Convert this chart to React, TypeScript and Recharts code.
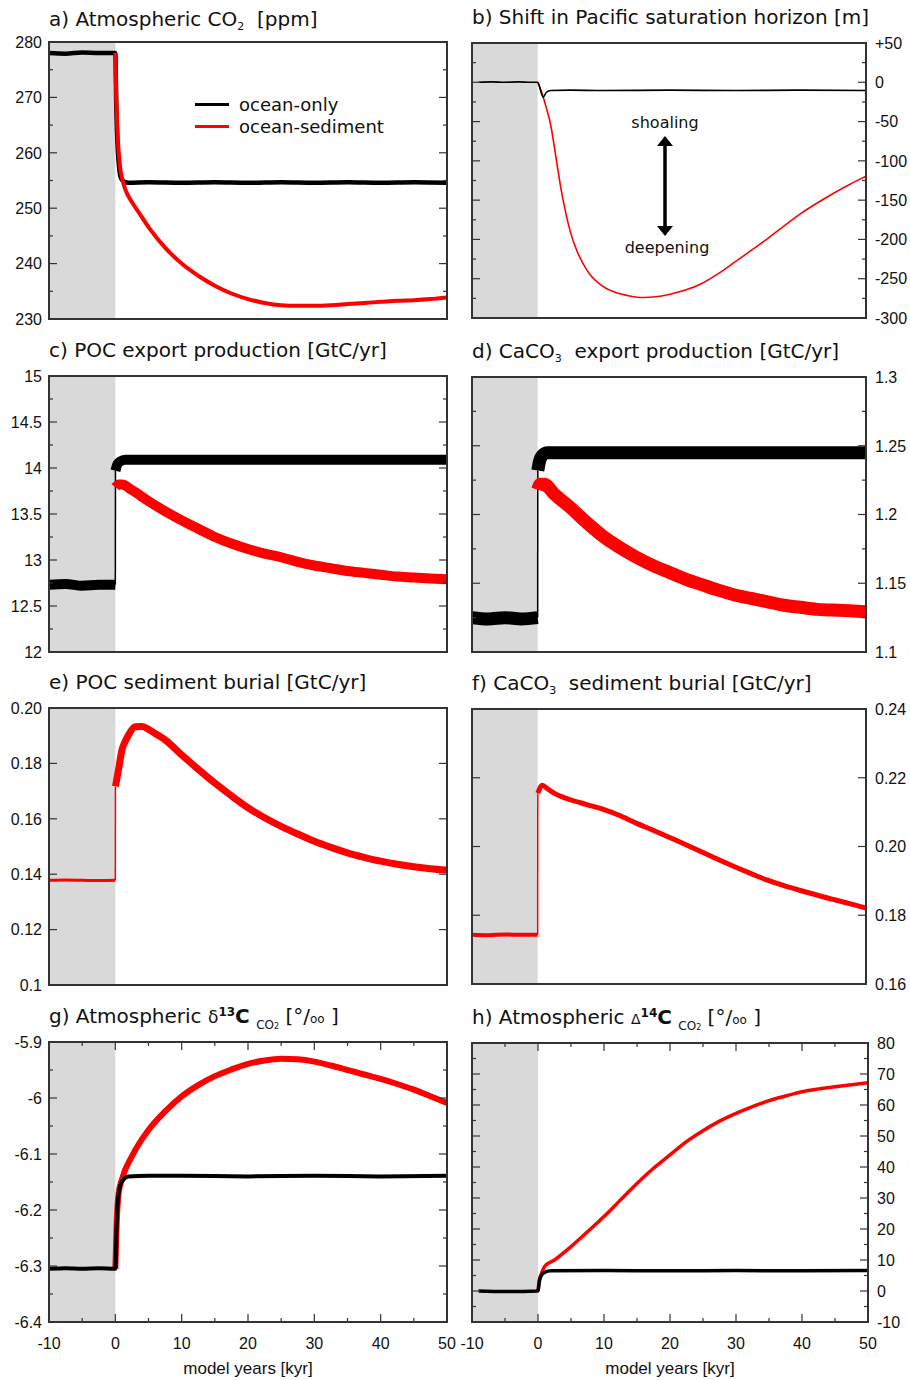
import React from 'react';
import { LineChart, Line, XAxis, YAxis, ReferenceArea, Legend, Label } from 'recharts';

type Pt = [number, number];

// shared x axis, model years [kyr]
const xTicks = [-10, 0, 10, 20, 30, 40, 50];
const xMinor = [-5, 5, 15, 25, 35, 45];
const xLabels = ['-10', '0', '10', '20', '30', '40', '50'];

// a) atmospheric CO2 [ppm]
const co2Ticks = [230, 240, 250, 260, 270, 280];
const co2Minor = [235, 245, 255, 265, 275];
const co2Labels = ['230', '240', '250', '260', '270', '280'];
const co2OceanOnly: Pt[] = [[-10, 278], [-7.5, 277.9], [-5, 278.1], [-2.5, 278], [0, 278], [0.15, 268], [0.35, 261], [0.6, 257], [0.9, 255.3], [1.3, 254.8], [2, 254.6], [5, 254.7], [10, 254.6], [15, 254.7], [20, 254.6], [25, 254.7], [30, 254.6], [35, 254.7], [40, 254.6], [45, 254.7], [50, 254.6]];
const co2OceanSed: Pt[] = [[0, 278], [0.15, 269.5], [0.4, 262], [0.7, 257.6], [1.1, 255], [1.5, 253.4], [2.5, 251.1], [3.5, 249.3], [5, 246.6], [7.5, 242.9], [10, 240], [12.5, 237.8], [15, 236], [17.5, 234.6], [20, 233.6], [22.5, 232.9], [25, 232.5], [27.5, 232.4], [30, 232.4], [32.5, 232.5], [35, 232.7], [37.5, 232.9], [40, 233.1], [42.5, 233.3], [45, 233.4], [47.5, 233.6], [50, 233.9]];

// b) shift in Pacific saturation horizon [m]
const horTicks = [-300, -250, -200, -150, -100, -50, 0, 50];
const horMinor = [-275, -225, -175, -125, -75, -25, 25];
const horLabels = ['-300', '-250', '-200', '-150', '-100', '-50', '0', '+50'];
const horOceanOnly: Pt[] = [[-9, 0], [-7, 0.5], [-5, 0], [-3, 0.5], [-1, 0], [0, 0], [0.3, -6], [0.6, -15], [0.85, -19], [1.3, -13], [2, -10.5], [5, -10], [10, -10.5], [20, -10], [30, -10.5], [40, -10], [50, -10.5]];
const horOceanSed: Pt[] = [[0, 0], [0.5, -10], [0.85, -19], [1.5, -38], [2, -55], [2.5, -80], [3, -107], [3.5, -133], [4, -155], [5, -191], [6, -215], [7, -232], [8, -245], [10, -260], [12, -268], [14, -272], [16, -274], [18, -273], [20, -270], [22.5, -264.5], [25, -256], [27.5, -243.5], [30, -229], [32.5, -214], [35, -199], [37.5, -183], [40, -167.5], [42.5, -154], [45, -141.5], [47.5, -130], [50, -119.5]];

// c) POC export production [GtC/yr]
const pocTicks = [12, 12.5, 13, 13.5, 14, 14.5, 15];
const pocMinor = [12.25, 12.75, 13.25, 13.75, 14.25, 14.75];
const pocLabels = ['12', '12.5', '13', '13.5', '14', '14.5', '15'];
const pocOnlyPre: Pt[] = [[-10, 12.73], [-7.5, 12.74], [-5, 12.72], [-2.5, 12.73], [0, 12.73]];
const pocOnlyPost: Pt[] = [[0.02, 13.97], [0.3, 14.04], [0.7, 14.07], [1.5, 14.09], [5, 14.09], [10, 14.09], [20, 14.09], [30, 14.09], [40, 14.09], [50, 14.09]];
const pocSed: Pt[] = [[0.02, 13.79], [0.5, 13.82], [1, 13.82], [2.5, 13.76], [5, 13.64], [7.5, 13.53], [10, 13.43], [12.5, 13.34], [15, 13.25], [17.5, 13.18], [20, 13.12], [22.5, 13.07], [25, 13.03], [27.5, 12.98], [30, 12.94], [32.5, 12.91], [35, 12.88], [37.5, 12.86], [40, 12.84], [42.5, 12.82], [45, 12.81], [47.5, 12.8], [50, 12.79]];

// d) CaCO3 export production [GtC/yr]
const calTicks = [1.1, 1.15, 1.2, 1.25, 1.3];
const calMinor = [1.125, 1.175, 1.225, 1.275];
const calLabels = ['1.1', '1.15', '1.2', '1.25', '1.3'];
const calOnlyPre: Pt[] = [[-10, 1.125], [-7.5, 1.124], [-5, 1.125], [-2.5, 1.124], [0, 1.125]];
const calOnlyPost: Pt[] = [[0.02, 1.232], [0.3, 1.239], [0.7, 1.243], [1.5, 1.245], [5, 1.245], [10, 1.245], [20, 1.245], [30, 1.245], [40, 1.245], [50, 1.245]];
const calSed: Pt[] = [[0.02, 1.218], [0.4, 1.222], [1, 1.222], [2.5, 1.215], [5, 1.205], [7.5, 1.194], [10, 1.184], [12.5, 1.176], [15, 1.169], [17.5, 1.163], [20, 1.158], [22.5, 1.153], [25, 1.149], [27.5, 1.145], [30, 1.1415], [32.5, 1.139], [35, 1.1365], [37.5, 1.134], [40, 1.1325], [42.5, 1.131], [45, 1.1305], [47.5, 1.13], [50, 1.1293]];

// e) POC sediment burial [GtC/yr]
const pbTicks = [0.1, 0.12, 0.14, 0.16, 0.18, 0.2];
const pbLabels = ['0.1', '0.12', '0.14', '0.16', '0.18', '0.20'];
const pbPre: Pt[] = [[-10, 0.1378], [-7.5, 0.1379], [-5, 0.1378], [-2.5, 0.1377], [0, 0.1378]];
const pbPost: Pt[] = [[0.02, 0.1717], [0.5, 0.178], [1, 0.1849], [1.5, 0.188], [2, 0.1903], [3, 0.1932], [4, 0.1933], [5, 0.1923], [6, 0.1908], [7.5, 0.1885], [10, 0.1831], [12.5, 0.1779], [15, 0.1729], [17.5, 0.1683], [20, 0.164], [22.5, 0.1604], [25, 0.1573], [27.5, 0.1545], [30, 0.1519], [32.5, 0.1497], [35, 0.1477], [37.5, 0.1461], [40, 0.1447], [42.5, 0.1436], [45, 0.1427], [47.5, 0.142], [50, 0.1415]];

// f) CaCO3 sediment burial [GtC/yr]
const cbTicks = [0.16, 0.18, 0.2, 0.22, 0.24];
const cbLabels = ['0.16', '0.18', '0.20', '0.22', '0.24'];
const cbPre: Pt[] = [[-10, 0.1743], [-7.5, 0.1742], [-5, 0.1744], [-2.5, 0.1743], [0, 0.1743]];
const cbPost: Pt[] = [[0.02, 0.2155], [0.7, 0.2178], [1.5, 0.2168], [2.5, 0.2155], [5, 0.2136], [7.5, 0.2122], [10, 0.2108], [12.5, 0.209], [15, 0.2068], [17.5, 0.2048], [20, 0.2027], [22.5, 0.2006], [25, 0.1984], [27.5, 0.1962], [30, 0.1941], [32.5, 0.1921], [35, 0.1902], [37.5, 0.1886], [40, 0.1872], [42.5, 0.1859], [45, 0.1846], [47.5, 0.1834], [50, 0.1821]];

// g) atmospheric d13C [permil]
const d13Ticks = [-6.4, -6.3, -6.2, -6.1, -6, -5.9];
const d13Minor = [-6.35, -6.25, -6.15, -6.05, -5.95];
const d13Labels = ['-6.4', '-6.3', '-6.2', '-6.1', '-6', '-5.9'];
const d13OceanOnly: Pt[] = [[-10, -6.305], [-7.5, -6.304], [-5, -6.305], [-2.5, -6.304], [0, -6.305], [0.2, -6.225], [0.5, -6.17], [1, -6.149], [2, -6.14], [5, -6.139], [10, -6.139], [20, -6.14], [30, -6.139], [40, -6.14], [50, -6.139]];
const d13OceanSed: Pt[] = [[0, -6.305], [0.2, -6.225], [0.5, -6.17], [1, -6.145], [2.5, -6.104], [5, -6.057], [7.5, -6.024], [10, -5.997], [12.5, -5.977], [15, -5.961], [17.5, -5.949], [20, -5.939], [22.5, -5.933], [25, -5.93], [27.5, -5.931], [30, -5.935], [32.5, -5.942], [35, -5.95], [37.5, -5.958], [40, -5.966], [42.5, -5.975], [45, -5.985], [47.5, -5.997], [50, -6.009]];

// h) atmospheric D14C [permil]
const d14Ticks = [-10, 0, 10, 20, 30, 40, 50, 60, 70, 80];
const d14Minor = [-5, 5, 15, 25, 35, 45, 55, 65, 75];
const d14Labels = ['-10', '0', '10', '20', '30', '40', '50', '60', '70', '80'];
const d14OceanOnly: Pt[] = [[-9, 0], [-5, -0.2], [0, 0], [0.2, 3], [0.5, 5], [1, 6], [2, 6.5], [10, 6.6], [20, 6.5], [30, 6.6], [40, 6.5], [50, 6.6]];
const d14OceanSed: Pt[] = [[0, 0], [0.2, 3.5], [0.5, 5.5], [1, 7.9], [2.5, 10], [5, 14.3], [7.5, 19.1], [10, 24], [12.5, 29.4], [15, 34.7], [17.5, 39.6], [20, 43.9], [22.5, 48.2], [25, 51.7], [27.5, 54.8], [30, 57.3], [32.5, 59.5], [35, 61.4], [37.5, 62.9], [40, 64.3], [42.5, 65.2], [45, 65.9], [47.5, 66.5], [50, 67.2]];

const BLACK = '#000000';
const RED = '#ff0000';
const AX = '#333333';
const TICK_FONT = '"Liberation Sans", Arial, sans-serif';
const TITLE_FONT = '"DejaVu Sans", Verdana, sans-serif';

interface Series {
  data: Pt[];
  color: string;
  width: number;
  name?: string;
}

interface PanelCfg {
  id: string;
  left: number;
  top: number;
  w: number;
  h: number;
  side: 'left' | 'right';
  yTicks: number[];
  yMinor: number[];
  yLabels: string[];
  series: Series[];
  title: React.ReactNode;
  bottom?: boolean;
  legend?: boolean;
}

const toRows = (d: Pt[]) => d.map(([x, y]) => ({ x, y }));
const link = (a: Pt[], b: Pt[]): Pt[] => [a[a.length - 1], b[0]];

const sub = (t: string) => <sub style={{ fontSize: 11, verticalAlign: -4, lineHeight: 0 }}>{t}</sub>;

function makeYTick(p: PanelCfg) {
  return (props: any) => {
    const { x, y, payload } = props;
    const i = p.yTicks.findIndex((t) => Math.abs(t - payload.value) < 1e-9);
    const dir = p.side === 'left' ? 1 : -1;
    const len = i >= 0 ? 8 : 4;
    const far = x + dir * p.w;
    return (
      <g>
        <line x1={x} y1={y} x2={x + dir * len} y2={y} stroke={AX} strokeWidth={1.2} />
        <line x1={far} y1={y} x2={far - dir * len} y2={y} stroke={AX} strokeWidth={1.2} />
        {i >= 0 && (
          <text
            x={p.side === 'left' ? x - 7 : x + 9}
            y={y}
            dy="0.36em"
            textAnchor={p.side === 'left' ? 'end' : 'start'}
            fontFamily={TICK_FONT}
            fontSize={16}
            fill="#111"
          >
            {p.yLabels[i]}
          </text>
        )}
      </g>
    );
  };
}

function makeXTick(p: PanelCfg) {
  return (props: any) => {
    const { x, y, payload } = props;
    const i = xTicks.indexOf(payload.value);
    const len = i >= 0 ? 8 : 4;
    const top = y - p.h;
    return (
      <g>
        <line x1={x} y1={y} x2={x} y2={y - len} stroke={AX} strokeWidth={1.2} />
        <line x1={x} y1={top} x2={x} y2={top + len} stroke={AX} strokeWidth={1.2} />
        {p.bottom && i >= 0 && (
          <text x={x} y={y + 27} textAnchor="middle" fontFamily={TICK_FONT} fontSize={16} fill="#111">
            {xLabels[i]}
          </text>
        )}
      </g>
    );
  };
}

function LegendBox(props: any) {
  const items = (props.payload || []).filter((e: any) => e.type !== 'none');
  return (
    <div style={{ fontFamily: TITLE_FONT, fontSize: 18, color: '#111' }}>
      {items.map((e: any) => (
        <div key={e.value} style={{ display: 'flex', alignItems: 'center', height: 21.5 }}>
          <span style={{ width: 34, height: 3, background: e.color, marginRight: 10 }} />
          <span>{e.value}</span>
        </div>
      ))}
    </div>
  );
}

function Panel({ p }: { p: PanelCfg }) {
  const isLeft = p.side === 'left';
  const axisW = 45;
  const mTop = 10;
  const xH = p.bottom ? 56 : 0;
  const mBottom = p.bottom ? 2 : 12;
  const mLeft = isLeft ? 4 : 22;
  const mRight = isLeft ? 10 : 4;
  const width = mLeft + axisW + p.w + mRight;
  const height = mTop + p.h + xH + mBottom;
  const chartLeft = p.left - mLeft - (isLeft ? axisW : 0);
  const chartTop = p.top - mTop;
  const yDomain = [p.yTicks[0], p.yTicks[p.yTicks.length - 1]];

  return (
    <>
      <div style={{ position: 'absolute', left: chartLeft, top: chartTop }}>
        <LineChart width={width} height={height} margin={{ top: mTop, right: mRight, bottom: mBottom, left: mLeft }}>
          <ReferenceArea x1={-10} x2={0} fill="#d9d9d9" fillOpacity={1} stroke="none" ifOverflow="hidden" />
          <XAxis
            type="number"
            dataKey="x"
            domain={[-10, 50]}
            allowDataOverflow
            ticks={[...xTicks, ...xMinor]}
            interval={0}
            height={xH}
            tickSize={0}
            tickMargin={0}
            axisLine={false}
            tick={makeXTick(p)}
          >
            {p.bottom && (
              <Label
                value="model years [kyr]"
                position="insideBottom"
                offset={4}
                style={{ fontFamily: TICK_FONT, fontSize: 17, fill: '#111' }}
              />
            )}
          </XAxis>
          <YAxis
            type="number"
            orientation={p.side}
            domain={yDomain}
            allowDataOverflow
            ticks={[...p.yTicks, ...p.yMinor]}
            interval={0}
            width={axisW}
            tickSize={0}
            tickMargin={0}
            axisLine={false}
            tick={makeYTick(p)}
          />
          {p.series.map((s, k) => (
            <Line
              key={`${p.id}-${k}`}
              data={toRows(s.data)}
              dataKey="y"
              name={s.name || `${p.id}-${k}`}
              legendType={s.name ? 'line' : 'none'}
              type="monotone"
              stroke={s.color}
              strokeWidth={s.width}
              dot={false}
              activeDot={false}
              isAnimationActive={false}
            />
          ))}
          {p.legend && (
            <Legend
              layout="vertical"
              align="center"
              verticalAlign="middle"
              content={<LegendBox />}
              wrapperStyle={{ left: 195 - chartLeft, top: 62, width: 'auto', height: 'auto' }}
            />
          )}
        </LineChart>
      </div>
      <div
        style={{
          position: 'absolute',
          left: p.left - 1,
          top: p.top - 1,
          width: p.w + 2,
          height: p.h + 2,
          border: `2px solid ${AX}`,
          boxSizing: 'border-box',
          pointerEvents: 'none',
        }}
      />
      <div
        style={{
          position: 'absolute',
          left: p.left,
          top: p.top - (p.id === 'a' ? 33 : 36),
          fontFamily: TITLE_FONT,
          fontSize: 20,
          lineHeight: '20px',
          whiteSpace: 'pre',
          color: '#111',
        }}
      >
        {p.title}
      </div>
    </>
  );
}

const L1 = 49;
const R1 = 472;
const W1 = 398;
const W2 = 394;

const panels: PanelCfg[] = [
  {
    id: 'a', left: L1, top: 42, w: W1, h: 277, side: 'left',
    yTicks: co2Ticks, yMinor: co2Minor, yLabels: co2Labels, legend: true,
    title: <>a) Atmospheric CO{sub('2')}  [ppm]</>,
    series: [
      { data: co2OceanOnly, color: BLACK, width: 4.5, name: 'ocean-only' },
      { data: co2OceanSed, color: RED, width: 4, name: 'ocean-sediment' },
    ],
  },
  {
    id: 'b', left: R1, top: 43, w: W2, h: 275, side: 'right',
    yTicks: horTicks, yMinor: horMinor, yLabels: horLabels,
    title: <>b) Shift in Pacific saturation horizon [m]</>,
    series: [
      { data: horOceanSed, color: RED, width: 1.6 },
      { data: horOceanOnly, color: BLACK, width: 1.6 },
    ],
  },
  {
    id: 'c', left: L1, top: 376, w: W1, h: 276, side: 'left',
    yTicks: pocTicks, yMinor: pocMinor, yLabels: pocLabels,
    title: <>c) POC export production [GtC/yr]</>,
    series: [
      { data: pocOnlyPre, color: BLACK, width: 10 },
      { data: link(pocOnlyPre, pocOnlyPost), color: BLACK, width: 1.5 },
      { data: pocOnlyPost, color: BLACK, width: 10 },
      { data: pocSed, color: RED, width: 10 },
    ],
  },
  {
    id: 'd', left: R1, top: 377, w: W2, h: 275, side: 'right',
    yTicks: calTicks, yMinor: calMinor, yLabels: calLabels,
    title: <>d) CaCO{sub('3')}  export production [GtC/yr]</>,
    series: [
      { data: calOnlyPre, color: BLACK, width: 13 },
      { data: link(calOnlyPre, calOnlyPost), color: BLACK, width: 1.5 },
      { data: calOnlyPost, color: BLACK, width: 13 },
      { data: calSed, color: RED, width: 13 },
    ],
  },
  {
    id: 'e', left: L1, top: 708, w: W1, h: 277, side: 'left',
    yTicks: pbTicks, yMinor: [], yLabels: pbLabels,
    title: <>e) POC sediment burial [GtC/yr]</>,
    series: [
      { data: pbPre, color: RED, width: 3 },
      { data: link(pbPre, pbPost), color: RED, width: 1.5 },
      { data: pbPost, color: RED, width: 7 },
    ],
  },
  {
    id: 'f', left: R1, top: 709, w: W2, h: 275, side: 'right',
    yTicks: cbTicks, yMinor: [], yLabels: cbLabels,
    title: <>f) CaCO{sub('3')}  sediment burial [GtC/yr]</>,
    series: [
      { data: cbPre, color: RED, width: 4 },
      { data: link(cbPre, cbPost), color: RED, width: 1.5 },
      { data: cbPost, color: RED, width: 5 },
    ],
  },
  {
    id: 'g', left: L1, top: 1042, w: W1, h: 280, side: 'left', bottom: true,
    yTicks: d13Ticks, yMinor: d13Minor, yLabels: d13Labels,
    title: (
      <>
        g) Atmospheric <span style={{ fontSize: 17 }}>δ</span>
        <sup style={{ fontSize: 12, fontWeight: 'bold', verticalAlign: 7, lineHeight: 0 }}>13</sup>
        <b>C</b> <sub style={{ fontSize: 12, verticalAlign: -6, lineHeight: 0 }}>CO<span style={{ fontSize: 8 }}>2</span></sub> [°/<span style={{ fontSize: 12 }}>oo</span> ]
      </>
    ),
    series: [
      { data: d13OceanSed, color: RED, width: 6 },
      { data: d13OceanOnly, color: BLACK, width: 4 },
    ],
  },
  {
    id: 'h', left: R1, top: 1043, w: W2 + 2, h: 279, side: 'right', bottom: true,
    yTicks: d14Ticks, yMinor: d14Minor, yLabels: d14Labels,
    title: (
      <>
        h) Atmospheric <span style={{ fontSize: 14 }}>Δ</span>
        <sup style={{ fontSize: 12, fontWeight: 'bold', verticalAlign: 7, lineHeight: 0 }}>14</sup>
        <b>C</b> <sub style={{ fontSize: 12, verticalAlign: -6, lineHeight: 0 }}>CO<span style={{ fontSize: 8 }}>2</span></sub> [°/<span style={{ fontSize: 12 }}>oo</span> ]
      </>
    ),
    series: [
      { data: d14OceanSed, color: RED, width: 3.5 },
      { data: d14OceanOnly, color: BLACK, width: 3.5 },
    ],
  },
];

function ShoalingArrow() {
  return (
    <svg
      width={140}
      height={170}
      style={{ position: 'absolute', left: 596, top: 100, overflow: 'visible' }}
    >
      <text x={69} y={28} textAnchor="middle" fontFamily={TITLE_FONT} fontSize={16} fill="#111">
        shoaling
      </text>
      <line x1={69} y1={44} x2={69} y2={127} stroke="#000" strokeWidth={3.5} />
      <polygon points="69,36 61,46 77,46" fill="#000" />
      <polygon points="69,136 61,126 77,126" fill="#000" />
      <text x={71} y={153} textAnchor="middle" fontFamily={TITLE_FONT} fontSize={16} fill="#111">
        deepening
      </text>
    </svg>
  );
}

export default function App() {
  return (
    <div
      style={{
        position: 'absolute',
        left: 0,
        top: 0,
        width: 910,
        height: 1380,
        background: '#ffffff',
        overflow: 'hidden',
      }}
    >
      {panels.map((p) => (
        <Panel key={p.id} p={p} />
      ))}
      <ShoalingArrow />
    </div>
  );
}
